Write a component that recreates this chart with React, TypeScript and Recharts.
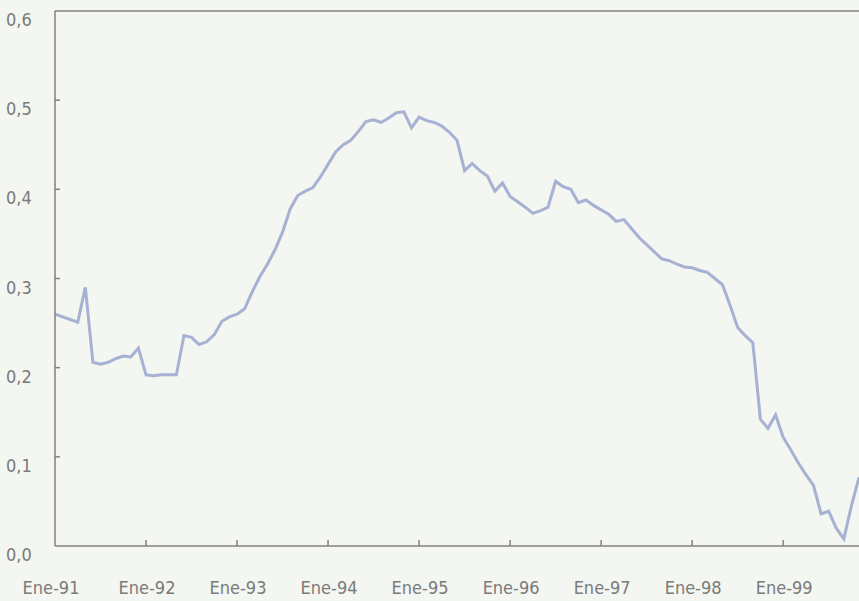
import { LineChart, Line, XAxis, YAxis, ReferenceLine } from 'recharts'

// índice mensual desde Ene-91 (0) hasta ~Nov-99 (106)
const values = [
  0.260, 0.257, 0.254, 0.251, 0.290, 0.206, 0.204, 0.206, 0.210, 0.213, 0.212, 0.222,
  0.192, 0.191, 0.192, 0.192, 0.192, 0.236, 0.234, 0.226, 0.229, 0.237, 0.252, 0.257,
  0.260, 0.266, 0.285, 0.302, 0.316, 0.332, 0.352, 0.378, 0.393, 0.398, 0.402, 0.414,
  0.428, 0.442, 0.450, 0.455, 0.465, 0.476, 0.478, 0.475, 0.480, 0.486, 0.487, 0.469,
  0.481, 0.477, 0.475, 0.471, 0.464, 0.455, 0.421, 0.429, 0.421, 0.415, 0.398, 0.407,
  0.392, 0.386, 0.380, 0.373, 0.376, 0.380, 0.409, 0.403, 0.400, 0.385, 0.388, 0.382,
  0.377, 0.372, 0.364, 0.366, 0.356, 0.346, 0.338, 0.330, 0.322, 0.320, 0.316, 0.313,
  0.312, 0.309, 0.307, 0.300, 0.293, 0.270, 0.245, 0.236, 0.228, 0.142, 0.132, 0.147,
  0.122, 0.108, 0.093, 0.080, 0.068, 0.036, 0.039, 0.020, 0.008, 0.045, 0.077,
]

const yearTicks = [0, 12, 24, 36, 48, 60, 72, 84, 96]
const yearLabels = ['Ene-91', 'Ene-92', 'Ene-93', 'Ene-94', 'Ene-95', 'Ene-96', 'Ene-97', 'Ene-98', 'Ene-99']
const yTicks = [0, 0.1, 0.2, 0.3, 0.4, 0.5, 0.6]

const data = values.map((v, i) => ({ m: i, v }))

const FONT = '"DejaVu Sans Condensed", "DejaVu Sans", sans-serif'
const AXIS = '#808080'
const TEXT = '#7a7a7a'

const YTick = ({ x, y, payload }: any) => (
  <g>
    {payload.value > 0 && payload.value < 0.6 && (
      <line x1={x} x2={x + 5} y1={y} y2={y} stroke={AXIS} strokeWidth={1.5} />
    )}
    <text x={x - 49} y={y + 15} fontFamily={FONT} fontSize={18} fill={TEXT} textAnchor="start">
      {payload.value.toFixed(1).replace('.', ',')}
    </text>
  </g>
)

const XTick = ({ x, y, payload, index }: any) => (
  <g>
    {payload.value > 0 && <line x1={x} x2={x} y1={y} y2={y - 6} stroke={AXIS} strokeWidth={1.5} />}
    <text x={index === 0 ? x - 4 : x + 1} y={y + 48} fontFamily={FONT} fontSize={18} fill={TEXT} textAnchor="middle">
      {yearLabels[index]}
    </text>
  </g>
)

export default function App() {
  return (
    <div style={{ position: 'absolute', left: 0, top: 0, width: 859, height: 601, background: '#f3f6f1', overflow: 'hidden' }}>
      <LineChart width={859} height={601} data={data} margin={{ top: 11, right: 0, left: 0, bottom: 0 }}>
        <XAxis
          dataKey="m"
          type="number"
          domain={[0, 106]}
          ticks={yearTicks}
          height={55}
          tickSize={0}
          tickMargin={0}
          axisLine={{ stroke: AXIS, strokeWidth: 1.5 }}
          tickLine={false}
          tick={<XTick />}
          interval={0}
        />
        <YAxis
          type="number"
          domain={[0, 0.6]}
          ticks={yTicks}
          width={55}
          tickSize={0}
          tickMargin={0}
          axisLine={{ stroke: AXIS, strokeWidth: 1.5 }}
          tickLine={false}
          tick={<YTick />}
          interval={0}
        />
        <ReferenceLine y={0.6} stroke={AXIS} strokeWidth={1.5} />
        <Line
          type="linear"
          dataKey="v"
          stroke="#a6b1d3"
          strokeWidth={3}
          dot={false}
          isAnimationActive={false}
        />
      </LineChart>
    </div>
  )
}
